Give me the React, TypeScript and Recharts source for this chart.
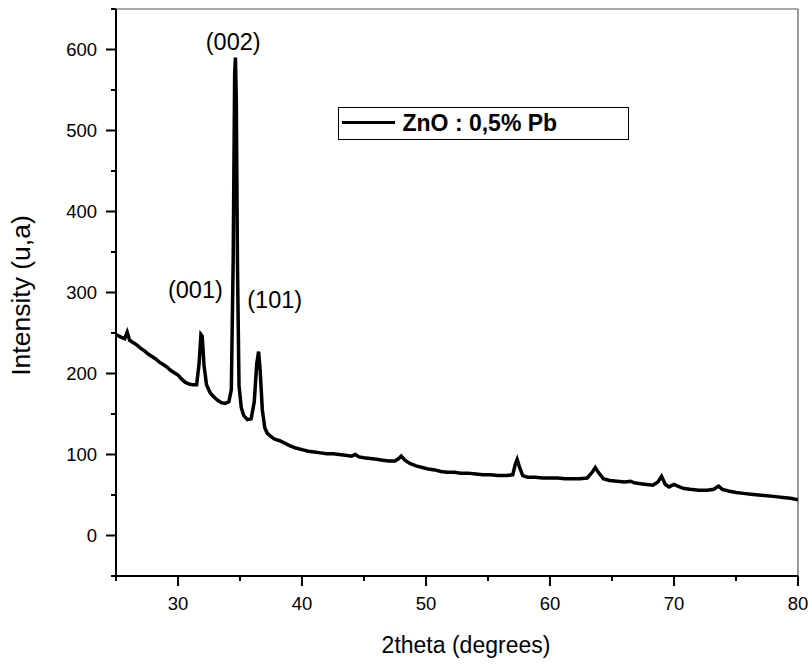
import React from 'react'
import {
  LineChart,
  Line,
  XAxis,
  YAxis,
  Legend,
  Label,
  ReferenceLine,
  ReferenceDot
} from 'recharts'

// diffractogram: 2theta (deg) / intensity (u,a)
const twoTheta = [
  25.0, 25.4, 25.7, 25.9, 26.1, 26.4, 26.7, 27.0, 27.3, 27.6, 27.9, 28.2, 28.5, 28.8,
  29.1, 29.4, 29.7, 30.0, 30.3, 30.6, 30.9, 31.2, 31.5, 31.7, 31.85, 31.95, 32.1, 32.3,
  32.6, 32.9, 33.2, 33.5, 33.8, 34.1, 34.3, 34.45, 34.57, 34.63, 34.7, 34.8, 34.92, 35.1,
  35.3, 35.6, 35.9, 36.15, 36.35, 36.5, 36.62, 36.8, 37.0, 37.2, 37.5, 37.8, 38.2, 38.6,
  39.0, 39.5, 40.0, 40.5, 41.0, 41.5, 42.0, 42.5, 43.0, 43.5, 44.0, 44.3, 44.6, 45.0,
  45.5, 46.0, 46.5, 47.0, 47.5, 47.8, 48.0, 48.3, 48.7, 49.2, 49.7, 50.2, 50.7, 51.2,
  51.7, 52.3, 52.8, 53.4, 54.0, 54.6, 55.2, 55.8, 56.5, 57.0, 57.2, 57.35, 57.55, 57.8,
  58.2, 58.8, 59.4, 60.0, 60.6, 61.2, 61.8, 62.4, 63.0, 63.4, 63.65, 63.9, 64.3, 64.8,
  65.4, 66.0, 66.5, 66.8, 67.3, 67.8, 68.3, 68.7, 69.0, 69.3, 69.6, 70.0, 70.3, 70.8,
  71.3, 72.0, 72.7, 73.2, 73.6, 73.9, 74.4, 75.0, 75.6, 76.2, 76.8, 77.5, 78.2, 78.8,
  79.4, 80.0
]
const intensity = [
  248, 245, 243, 251, 241, 238, 235, 231, 228, 224, 221, 218, 214, 211,
  208, 204, 201, 198, 193, 189, 187, 186, 186, 212, 248, 246, 210, 186,
  176, 171, 167, 164, 163, 165, 180, 340, 570, 590, 540, 330, 185, 158,
  148, 143, 144, 165, 212, 227, 205, 155, 133, 126, 122, 119, 117, 114,
  111, 108, 106, 104, 103, 102, 101, 101, 100, 99, 98, 100, 97, 96,
  95, 94, 93, 92, 92, 95, 98, 93, 89, 86, 84, 82, 81, 79,
  78, 78, 77, 77, 76, 75, 75, 74, 74, 75, 88, 94, 84, 74,
  72, 72, 71, 71, 71, 70, 70, 70, 71, 78, 84, 78, 70, 68,
  67, 66, 67, 65, 64, 63, 62, 66, 73, 63, 60, 63, 61, 58,
  57, 56, 56, 57, 61, 57, 55, 53, 52, 51, 50, 49, 48, 47,
  46, 44
]

const xTicks = [25, 30, 35, 40, 45, 50, 55, 60, 65, 70, 75, 80]
const yTicks = [-50, 0, 50, 100, 150, 200, 250, 300, 350, 400, 450, 500, 550, 600, 650]

const peakLabels = [
  { text: '(001)', x: 31.4, y: 303 },
  { text: '(002)', x: 34.45, y: 610 },
  { text: '(101)', x: 37.8, y: 291 }
]

const seriesName = 'ZnO : 0,5% Pb'

const data = twoTheta.map((t, i) => ({ t, v: intensity[i] }))

const FONT = 'Arial, "Liberation Sans", sans-serif'

const XTick = (props: any) => {
  const { x, y, payload } = props
  const major = payload.value % 10 === 0
  return (
    <g>
      <line x1={x} y1={y} x2={x} y2={y + (major ? 10 : 5)} stroke="#000" strokeWidth={2} />
      {major && (
        <text x={x} y={y + 34} textAnchor="middle" fontSize={18.5} fontFamily={FONT} fill="#000">
          {payload.value}
        </text>
      )}
    </g>
  )
}

const YTick = (props: any) => {
  const { x, y, payload } = props
  const v = payload.value
  const major = v % 100 === 0 && v >= 0 && v <= 600
  return (
    <g>
      <line x1={x} y1={y} x2={x - (major ? 10 : 5)} y2={y} stroke="#000" strokeWidth={2} />
      {major && (
        <text x={x - 19} y={y + 6.6} textAnchor="end" fontSize={18.5} fontFamily={FONT} fill="#000">
          {v}
        </text>
      )}
    </g>
  )
}

const LegendBox = () => (
  <div
    style={{
      boxSizing: 'border-box',
      width: 291,
      height: 33,
      border: '1.5px solid #000',
      position: 'relative',
      background: '#fff'
    }}
  >
    <div style={{ position: 'absolute', left: 2.5, top: 13.3, width: 53, height: 3, background: '#000' }} />
    <span
      style={{
        position: 'absolute',
        left: 63.5,
        top: 0,
        lineHeight: '30px',
        fontSize: 23,
        fontWeight: 'bold',
        fontFamily: FONT,
        color: '#000',
        whiteSpace: 'nowrap'
      }}
    >
      {seriesName}
    </span>
  </div>
)

export default function App() {
  return (
    <div style={{ position: 'absolute', left: 0, top: 0, width: 812, height: 668, background: '#fff' }}>
      <LineChart
        width={812}
        height={668}
        data={data}
        margin={{ top: 9, right: 14, left: 56, bottom: 32 }}
      >
        <XAxis
          dataKey="t"
          type="number"
          domain={[25, 80]}
          ticks={xTicks}
          interval={0}
          height={60}
          tickSize={0}
          tickMargin={0}
          tickLine={false}
          tick={<XTick />}
          axisLine={{ stroke: '#000', strokeWidth: 2 }}
          allowDataOverflow
        >
          <Label
            value="2theta (degrees)"
            position="bottom"
            offset={1}
            dx={9}
            fontSize={23}
            fontFamily={FONT}
            fill="#000"
          />
        </XAxis>
        <YAxis
          type="number"
          domain={[-50, 650]}
          ticks={yTicks}
          interval={0}
          width={60}
          tickSize={0}
          tickMargin={0}
          tickLine={false}
          tick={<YTick />}
          axisLine={{ stroke: '#000', strokeWidth: 2 }}
          allowDataOverflow
        >
          <Label
            value="Intensity (u,a)"
            position="insideLeft"
            angle={-90}
            offset={-35}
            dy={3}
            textAnchor="middle"
            style={{ textAnchor: 'middle' }}
            fontSize={26.5}
            fontFamily={FONT}
            fill="#000"
          />
        </YAxis>
        <ReferenceLine y={650} stroke="#555" strokeWidth={1.2} />
        <ReferenceLine x={80} stroke="#555" strokeWidth={1.2} />
        <Legend
          layout="vertical"
          align="center"
          verticalAlign="middle"
          content={() => <LegendBox />}
          wrapperStyle={{ left: 338, top: 107, width: 291, height: 33 }}
        />
        <Line
          type="linear"
          dataKey="v"
          name={seriesName}
          stroke="#000"
          strokeWidth={3.5}
          dot={false}
          isAnimationActive={false}
        />
        {peakLabels.map((p) => (
          <ReferenceDot key={p.text} x={p.x} y={p.y} r={0} fill="none" stroke="none">
            <Label value={p.text} position="center" fontSize={23.5} fontFamily={FONT} fill="#000" />
          </ReferenceDot>
        ))}
      </LineChart>
    </div>
  )
}
